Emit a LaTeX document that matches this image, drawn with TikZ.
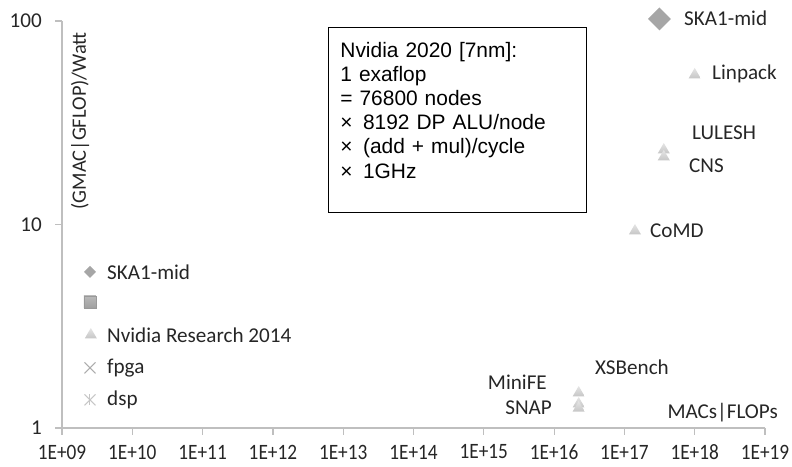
\documentclass[tikz,border=0pt]{standalone}
\usepackage{fontspec}
\setmainfont{Carlito}
\newfontfamily\boxfont{Liberation Sans}
\newfontfamily\tickfont[FakeStretch=0.88]{Carlito}
\usetikzlibrary{shapes.geometric,shapes.misc}
\definecolor{axisgray}{RGB}{191,191,191}
\definecolor{labelgray}{RGB}{38,38,38}

\begin{document}
\begin{tikzpicture}[
    x=70.3bp, y=203.5bp,
    lbl/.style={font=\fontsize{21.2}{24}\selectfont, text=labelgray, inner sep=0pt},
    ticklbl/.style={font=\tickfont\fontsize{22}{24}\selectfont, text=labelgray, inner sep=0pt},
    axis/.style={draw=axisgray, line width=1.2bp},
    tri/.style={regular polygon, regular polygon sides=3, minimum size=14bp, inner sep=0pt, top color=gray!20, bottom color=gray!45},
    dia/.style={diamond, minimum size=13bp, inner sep=0pt, fill=gray!70},
    sq/.style={rectangle, minimum size=12bp, inner sep=0pt, top color=gray!55, bottom color=gray!75, draw=gray!80},
    xmark/.style={cross out, draw=gray!65, line width=1bp, minimum size=10bp, inner sep=0pt}
]
\useasboundingbox (-0.882,-0.187) rectangle (10.384,2.103);

% Axes
\draw[axis] (0,2) -- (0,0) -- (10,0);
\foreach \i in {0,...,10}
    \draw[axis] (\i,0) -- ++(0,-7bp);
\foreach \j in {0,1,2}
    \draw[axis] (0,\j) -- ++(-7bp,0);

% Tick labels
\foreach \i/\e in {0/09,1/10,2/11,3/12,4/13,5/14,6/15,7/16,8/17,9/18,10/19}
    \node[ticklbl] (xt\i) at (\i,-0.118) {1E+\e};
\node[lbl, anchor=east] (yt0) at (-0.284,0) {1};
\node[lbl, anchor=east] (yt1) at (-0.284,1) {10};
\node[lbl, anchor=east] (yt2) at (-0.284,2) {100};

% Axis titles
\node[lbl, font=\fontsize{20.5}{24}\selectfont, rotate=90] (ytitle) at (0.256,1.509) {(GMAC|GFLOP)/Watt};
\node[lbl, anchor=east] (xtitle) at (10.185,0.074) {MACs|FLOPs};

% Legend
\node[dia, minimum size=12bp] (legska) at (0.398,0.767) {};
\node[lbl, anchor=west] (legskatxt) at (0.64,0.767) {SKA1-mid};
\node[sq] (legsq) at (0.398,0.619) {};
\node[tri] (legnv) at (0.41,0.457) {};
\node[lbl, anchor=west] (legnvtxt) at (0.64,0.457) {Nvidia Research 2014};
\node[xmark] (legfpga) at (0.398,0.295) {};
\node[lbl, anchor=west] (legfpgatxt) at (0.64,0.295) {fpga};
\node[xmark, draw=gray!45] (legdsp) at (0.398,0.138) {};
\draw[gray!45, line width=1bp] (legdsp.north) -- (legdsp.south);
\node[lbl, anchor=west] (legdsptxt) at (0.64,0.138) {dsp};

% Data points
\node[dia, minimum size=23bp] (ska) at (8.499,2.010) {};
\node[lbl, anchor=west] (skatxt) at (8.848,2.015) {SKA1-mid};
\node[tri] (linpack) at (9.00,1.735) {};
\node[lbl, anchor=west] (linpacktxt) at (9.246,1.740) {Linpack};
\node[tri] (lulesh) at (8.56,1.366) {};
\node[tri] (cns) at (8.56,1.332) {};
\node[lbl, anchor=west] (luleshtxt) at (8.962,1.450) {LULESH};
\node[lbl, anchor=west] (cnstxt) at (8.919,1.287) {CNS};
\node[tri] (comd) at (8.15,0.968) {};
\node[lbl, anchor=west] (comdtxt) at (8.364,0.968) {CoMD};
\node[tri] (xsbench) at (7.35,0.172) {};
\node[tri] (minife) at (7.35,0.118) {};
\node[tri] (snap) at (7.35,0.098) {};
\node[lbl, anchor=west] (xsbenchtxt) at (7.582,0.300) {XSBench};
\node[lbl, anchor=east] (minifetxt) at (6.899,0.226) {MiniFE};
\node[lbl, anchor=east] (snaptxt) at (6.970,0.098) {SNAP};

% Exaflop box
\node[draw=black, line width=0.8bp, fill=white, anchor=north west,
      minimum width=258bp, minimum height=185bp, inner xsep=12bp,
      text width=234bp, align=left,
      font=\boxfont\fontsize{21}{24.2}\selectfont] (exabox) at (3.784,1.971)
    {Nvidia 2020 [7nm]:\\
     1 exaflop\\
     = 76800 nodes\\
     ×\enspace 8192 DP ALU/node\\
     ×\enspace (add + mul)/cycle\\
     ×\enspace 1GHz\rule[-19bp]{0pt}{19bp}};

\end{tikzpicture}
\end{document}
